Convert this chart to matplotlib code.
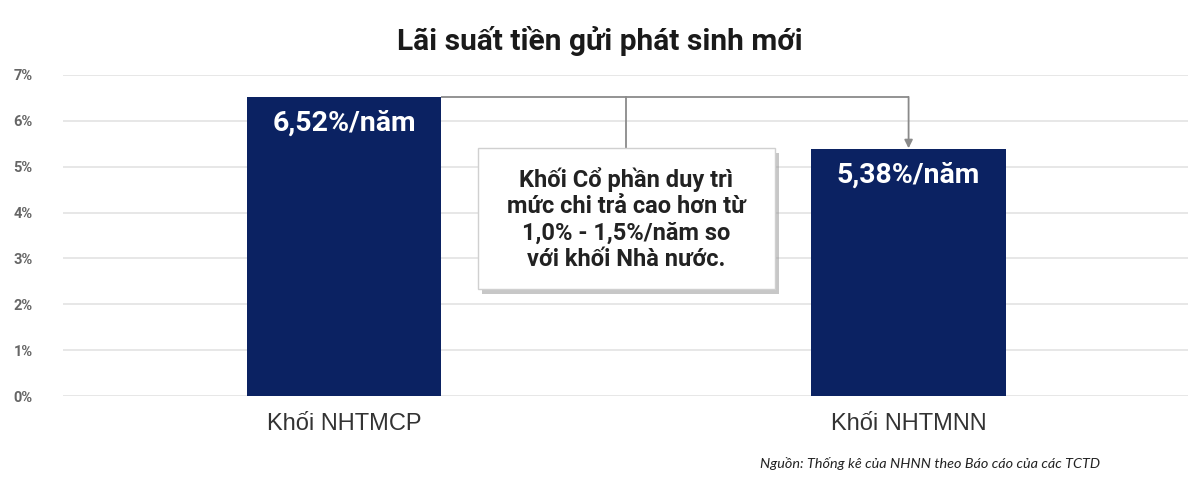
import matplotlib
matplotlib.use("Agg")
import matplotlib.pyplot as plt
from matplotlib.patches import Rectangle
from matplotlib.ticker import FuncFormatter

categories = ["Khối NHTMCP", "Khối NHTMNN"]
values = [6.52, 5.38]
bar_labels = ["6,52%/năm", "5,38%/năm"]
yticks = [0, 1, 2, 3, 4, 5, 6, 7]
title = "Lãi suất tiền gửi phát sinh mới"
note = "Khối Cổ phần duy trì\nmức chi trả cao hơn từ\n1,0% - 1,5%/năm so\nvới khối Nhà nước."
source = "Nguồn: Thống kê của NHNN theo Báo cáo của các TCTD"

plt.rcParams['font.family'] = ['Roboto', 'DejaVu Sans']

fig = plt.figure(figsize=(12, 4.86), dpi=100)
ax = fig.add_axes([0.0525, 0.185, 0.9375, 0.661])
x = list(range(len(categories)))
bar_color = '#0b2262'
ax.bar(x, values, width=0.344, color=bar_color, zorder=3)
ax.set_xlim(-0.498, 1.495)
ax.set_ylim(0, 7)
ax.set_yticks(yticks)
ax.yaxis.set_major_formatter(FuncFormatter(lambda v, p: f"{int(v)}%"))
ax.grid(axis='y', color='#e3e3e3', linewidth=1.2, zorder=0)
for s in ax.spines.values():
    s.set_visible(False)
ax.tick_params(axis='y', length=0, pad=22, labelsize=10.5, labelcolor='#666666')
for t in ax.get_yticklabels():
    t.set_fontweight('bold')
ax.set_xticks(x)
ax.set_xticklabels(categories, fontsize=17, color='#333333', family=['Liberation Sans', 'DejaVu Sans'])
ax.tick_params(axis='x', length=0, pad=12)

for xi, v, lab in zip(x, values, bar_labels):
    ax.text(xi, v - 0.27, lab, ha='center', va='top', color='white',
            fontsize=20.5, fontweight='bold', zorder=5)

# connector
lc = '#8a8a8a'
ax.plot([x[0] + 0.172, x[1]], [values[0], values[0]], color=lc, lw=1.3, zorder=4, solid_capstyle='butt')
ax.annotate('', xy=(x[1], values[1] + 0.02), xytext=(x[1], values[0]),
            arrowprops=dict(arrowstyle='-|>', color=lc, lw=1.3, mutation_scale=12,
                            shrinkA=0, shrinkB=0), zorder=4)
box_cx = 0.5
box_top = 5.4
box_bot = 2.33
box_w = 0.526
ax.plot([box_cx, box_cx], [values[0], box_top], color=lc, lw=1.3, zorder=4)

# shadow + box
ax.add_patch(Rectangle((box_cx - box_w / 2 + 0.008, box_bot - 0.1), box_w, box_top - box_bot,
                       facecolor='#9a9a9a', edgecolor='none', alpha=0.55, zorder=5))
ax.add_patch(Rectangle((box_cx - box_w / 2, box_bot), box_w, box_top - box_bot,
                       facecolor='white', edgecolor='#d0d0d0', lw=1, zorder=6))
ax.text(box_cx, (box_top + box_bot) / 2, note, ha='center', va='center',
        fontsize=17, fontweight='bold', color='#222222', linespacing=1.18, zorder=7)

fig.text(0.5, 0.915, title, ha='center', va='center', fontsize=21.5,
         fontweight='bold', color='#1a1a1a')
fig.text(0.633, 0.047, source, ha='left', va='center', fontsize=10.4,
         style='italic', color='#222222', family=['Lato', 'DejaVu Sans'])

fig.savefig('out.png', dpi=100)
